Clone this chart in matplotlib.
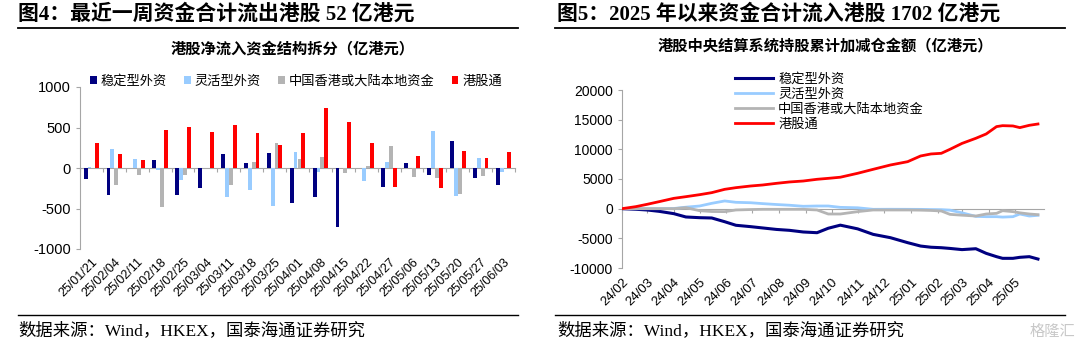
import numpy as np
import pandas as pd
import matplotlib
matplotlib.use("Agg")
import matplotlib.pyplot as plt
from matplotlib.lines import Line2D

plt.rcParams['font.family'] = ['Liberation Sans', 'Noto Sans CJK SC']
plt.rcParams['axes.unicode_minus'] = False

# ---- 图4 数据：每周净流入（亿港元）
weeks = ['25/01/21', '25/02/04', '25/02/11', '25/02/18', '25/02/25', '25/03/04',
         '25/03/11', '25/03/18', '25/03/25', '25/04/01', '25/04/08', '25/04/15',
         '25/04/22', '25/04/27', '25/05/06', '25/05/13', '25/05/20', '25/05/27',
         '25/06/03']
stable_w = [-135, -332, -5, 98, -332, -250, 172, 57, 185, -426, -353, -730,
            0, -238, 62, -86, 332, -123, -215]
flex_w = [8, 234, 111, -25, -148, 0, -361, -266, -463, 193, -45, 0,
          -164, 74, 0, 459, -344, 123, -45]
local_w = [5, -209, -82, -484, -90, 0, -205, 78, 303, 111, 131, -66,
           25, 266, -115, -123, -320, -94, 5]
connect_w = [303, 172, 98, 467, 512, 443, 533, 435, 287, 426, 746, 566,
             303, -230, 143, -246, 213, 123, 203]

# ---- 图5 数据：累计加减仓（亿港元）
cum_dates = ['2024-02-01', '2024-02-17', '2024-03-01', '2024-03-15', '2024-04-01',
             '2024-04-15', '2024-05-01', '2024-05-15', '2024-05-30', '2024-06-12',
             '2024-06-29', '2024-07-13', '2024-07-29', '2024-08-13', '2024-08-29',
             '2024-09-14', '2024-09-27', '2024-10-11', '2024-10-31', '2024-11-18',
             '2024-12-08', '2024-12-28', '2025-01-12', '2025-01-24', '2025-02-05',
             '2025-02-15', '2025-03-01', '2025-03-17', '2025-03-29', '2025-04-10',
             '2025-04-17', '2025-04-29', '2025-05-07', '2025-05-18', '2025-05-28']
stable_c = [0, -100, -220, -450, -840, -1400, -1520, -1570, -2200, -2800,
            -3030, -3250, -3500, -3650, -3930, -4050, -3300, -2780, -3400, -4330,
            -4890, -5730, -6300, -6500, -6580, -6700, -6900, -6750, -7530, -8090,
            -8370, -8370, -8200, -8090, -8490]
flex_c = [0, 0, 0, 0, 30, 250, 450, 900, 1300, 1070,
          1000, 850, 700, 580, 400, 450, 450, 220, 150, -110,
          -100, -110, -120, -150, -170, -250, -700, -1300, -1350, -1350,
          -1420, -1350, -900, -1240, -1120]
local_c = [0, 0, 0, 0, 0, 170, -340, -480, -500, -220,
           -150, -110, -110, -110, -110, -220, -900, -900, -500, -220,
           -220, -220, -250, -300, -390, -960, -1100, -1240, -900, -790,
           -340, -500, -700, -900, -1010]
connect_c = [0, 340, 730, 1180, 1740, 2020, 2360, 2700, 3260, 3540,
             3820, 3990, 4270, 4500, 4660, 4950, 5110, 5300, 5960, 6630,
             7360, 7920, 8880, 9220, 9330, 10000, 11000, 11860, 12590, 13830,
             13990, 13940, 13660, 14050, 14270]

names = ['稳定型外资', '灵活型外资', '中国香港或大陆本地资金', '港股通']
colors = ['#000080', '#99ccff', '#b4b4b4', '#ff0000']
axis_gray = '#a6a6a6'
W, H = 1080, 349


def fx(px):
    return px / W


def fy(py):
    return 1 - py / H


fig = plt.figure(figsize=(10.8, 3.49), dpi=100)
title_font = ['Liberation Serif', 'Noto Sans CJK SC']
cjk = ['Noto Sans CJK SC']

# 标题、横线、来源
fig.text(fx(18), fy(14), '图4：最近一周资金合计流出港股 52 亿港元', family=title_font,
         fontsize=15, fontweight='bold', va='center', ha='left')
fig.text(fx(557), fy(14), '图5：2025 年以来资金合计流入港股 1702 亿港元', family=title_font,
         fontsize=15, fontweight='bold', va='center', ha='left')
for x0, x1 in [(18, 518), (555, 1065)]:
    fig.add_artist(Line2D([fx(x0), fx(x1)], [fy(28), fy(28)], color='black', lw=1.3))
    fig.add_artist(Line2D([fx(x0), fx(x1)], [fy(315), fy(315)], color='black', lw=1.0))
for x0 in [18, 557]:
    fig.text(fx(x0), fy(331), '数据来源：Wind，HKEX，国泰海通证券研究', family=title_font,
             fontsize=12.5, va='center', ha='left')
fig.text(fx(1075), fy(331), '格隆汇', fontsize=11, color='#c8c8c8', va='center', ha='right',
         family=cjk)

fig.text(fx(293), fy(48), '港股净流入资金结构拆分（亿港元）', family=cjk,
         fontsize=11, fontweight='bold', va='center', ha='center')
fig.text(fx(825), fy(45), '港股中央结算系统持股累计加减仓金额（亿港元）', family=cjk,
         fontsize=11, fontweight='bold', va='center', ha='center')

# ---- 左图：柱状
ax1 = fig.add_axes([fx(80), fy(249), fx(515) - fx(80), fy(87) - fy(249)])
x = np.arange(len(weeks))
bw = 0.17
offs = [-0.255, -0.085, 0.085, 0.255]
for vals, c, name, o in zip([stable_w, flex_w, local_w, connect_w], colors, names, offs):
    ax1.bar(x + o, vals, bw, color=c, label=name, zorder=3)
ax1.set_xlim(-0.5, len(weeks) - 0.5)
ax1.set_ylim(-1000, 1000)
ax1.set_yticks(range(-1000, 1001, 500))
for s in ['top', 'right']:
    ax1.spines[s].set_visible(False)
ax1.spines['left'].set_color(axis_gray)
ax1.spines['bottom'].set_color(axis_gray)
ax1.spines['bottom'].set_position(('data', 0))
ax1.set_xticks(np.arange(-0.5, len(weeks), 1.0))
ax1.tick_params(axis='x', direction='out', length=3, color=axis_gray, labelbottom=False)
ax1.tick_params(axis='y', direction='out', length=3, color=axis_gray, labelsize=10.5)
sec1 = ax1.secondary_xaxis(0.0)
sec1.set_xticks(x)
sec1.set_xticklabels(weeks, rotation=45, ha='right', rotation_mode='anchor', fontsize=9)
sec1.tick_params(length=0, pad=5)
sec1.spines['bottom'].set_visible(False)
ax1.legend(loc='center', bbox_to_anchor=(fx(296), fy(81)), bbox_transform=fig.transFigure,
           ncol=4, frameon=False, handlelength=0.5, handleheight=0.5,
           handletextpad=0.3, columnspacing=1.3, borderpad=0,
           prop={'family': cjk, 'size': 9.5})

# ---- 右图：累计折线
ax2 = fig.add_axes([fx(622), fy(268), fx(1044) - fx(622), fy(90) - fy(268)])
d = pd.to_datetime(cum_dates)
lws = [2.2, 2.0, 2.0, 2.0]
for vals, c, name, lw in zip([stable_c, flex_c, local_c, connect_c], colors, names, lws):
    ax2.plot(d, vals, color=c, lw=lw, label=name, zorder=3)
ax2.set_xlim(pd.Timestamp('2024-02-01'), pd.Timestamp('2025-06-04'))
ax2.set_ylim(-10000, 20000)
ax2.set_yticks(range(-10000, 20001, 5000))
for s in ['top', 'right']:
    ax2.spines[s].set_visible(False)
ax2.spines['left'].set_color(axis_gray)
ax2.spines['bottom'].set_color(axis_gray)
ax2.spines['bottom'].set_position(('data', 0))
months = pd.date_range('2024-02-01', '2025-05-01', freq='MS')
ax2.set_xticks(months)
ax2.tick_params(axis='x', direction='out', length=3, color=axis_gray, labelbottom=False)
ax2.tick_params(axis='y', direction='out', length=3, color=axis_gray, labelsize=10)
sec2 = ax2.secondary_xaxis(0.0)
sec2.set_xticks(months)
sec2.set_xticklabels([m.strftime('%y/%m') for m in months], rotation=45, ha='right',
                     rotation_mode='anchor', fontsize=9.5)
sec2.tick_params(length=0, pad=6)
sec2.spines['bottom'].set_visible(False)
ax2.legend(loc='upper left', bbox_to_anchor=(fx(728), fy(66)), bbox_transform=fig.transFigure,
           frameon=False, handlelength=2.9, handletextpad=0.4, labelspacing=0.15, borderpad=0,
           prop={'family': cjk, 'size': 9.5})

fig.savefig('out.png', dpi=100)
